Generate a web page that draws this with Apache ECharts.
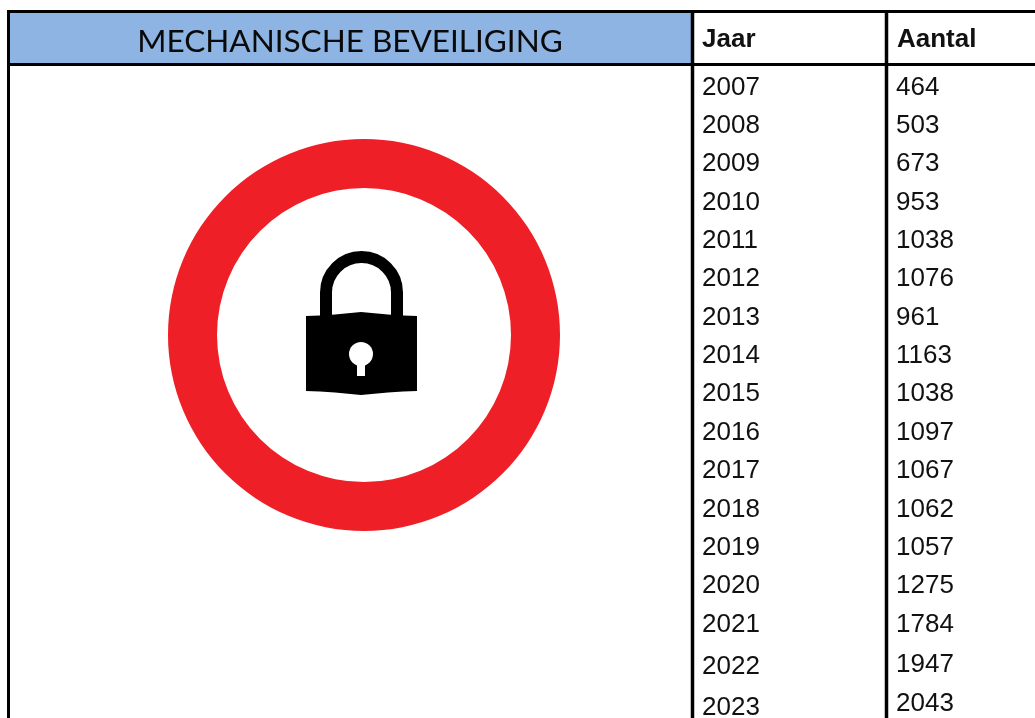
<!DOCTYPE html>
<html>
<head>
<meta charset="utf-8">
<style>
  html, body { margin: 0; padding: 0; background: #fff; overflow: hidden; }
  #chart { width: 1035px; height: 718px; }
</style>
<script src="https://cdn.jsdelivr.net/npm/echarts@6/dist/echarts.min.js"></script>
</head>
<body>
<div id="chart"></div>
<script>
const title = 'MECHANISCHE BEVEILIGING';
const headers = ['Jaar', 'Aantal'];
const years = ['2007', '2008', '2009', '2010', '2011', '2012', '2013', '2014', '2015', '2016', '2017', '2018', '2019', '2020', '2021', '2022', '2023'];
const counts = ['464', '503', '673', '953', '1038', '1076', '961', '1163', '1038', '1097', '1067', '1062', '1057', '1275', '1784', '1947', '2043'];

// the last rows sit a bit lower in the source table
const yearNudge = { 2022: 4.5, 2023: 6.5 };
const countNudge = { 2022: 2, 2023: 2.5 };

const black = '#000';
const tableFont = '"Liberation Sans", Arial, sans-serif';

function line(x1, y1, x2, y2, w) {
    return { type: 'line', shape: { x1, y1, x2, y2 }, style: { stroke: black, lineWidth: w }, z: 5 };
}

// one text column, placed through the axes
function textColumn(name, xPos, labels, nudge) {
    return {
        type: 'custom',
        name: name,
        coordinateSystem: 'cartesian2d',
        clip: false,
        data: labels.map((t, i) => [xPos, years[i]]),
        encode: { x: 0, y: 1 },
        renderItem(params, api) {
            const p = api.coord([api.value(0), params.dataIndex]);
            const yr = years[params.dataIndex];
            return {
                type: 'text',
                x: p[0],
                y: p[1] + 2.3 + (nudge[yr] || 0),
                style: {
                    text: labels[params.dataIndex],
                    fill: '#111',
                    fontFamily: tableFont,
                    fontSize: 26,
                    verticalAlign: 'middle'
                }
            };
        }
    };
}

const chart = echarts.init(document.getElementById('chart'), null, { renderer: 'canvas' });
chart.setOption({
    animation: false,
    backgroundColor: '#fff',
    grid: { left: 0, top: 66, width: 1035, height: 654 },
    xAxis: { type: 'value', min: 0, max: 1035, show: false },
    yAxis: { type: 'category', data: years, inverse: true, show: false },
    series: [
        textColumn('Jaar', 702, years, yearNudge),
        textColumn('Aantal', 896, counts, countNudge)
    ],
    graphic: [
        // header band
        { type: 'rect', shape: { x: 9, y: 12, width: 683, height: 52 }, style: { fill: '#8DB4E2' } },
        { type: 'text', x: 350, y: 42, style: { text: title, fill: '#0a0a0a', font: '31.5px Lato, "Open Sans", sans-serif', textAlign: 'center', textVerticalAlign: 'middle' } },
        { type: 'text', x: 702, y: 40, style: { text: headers[0], fill: '#111', font: 'bold 26px ' + tableFont, textVerticalAlign: 'middle' } },
        { type: 'text', x: 897, y: 40, style: { text: headers[1], fill: '#111', font: 'bold 26px ' + tableFont, textVerticalAlign: 'middle' } },
        // table lines
        line(7, 11.5, 1035, 11.5, 3),
        line(7, 64.5, 1035, 64.5, 3),
        line(8.5, 10, 8.5, 718, 3),
        line(692.5, 10, 692.5, 718, 3.5),
        line(886.5, 10, 886.5, 718, 3.5),
        // red ring
        { type: 'ring', shape: { cx: 364, cy: 335, r: 196, r0: 147 }, style: { fill: '#EE1F26' } },
        // padlock shackle
        { type: 'arc', shape: { cx: 361.5, cy: 292.5, r: 35.5, startAngle: Math.PI, endAngle: 2 * Math.PI, clockwise: true }, style: { fill: 'none', stroke: black, lineWidth: 12 } },
        { type: 'line', shape: { x1: 326, y1: 292, x2: 326, y2: 318 }, style: { stroke: black, lineWidth: 12 } },
        { type: 'line', shape: { x1: 397, y1: 292, x2: 397, y2: 318 }, style: { stroke: black, lineWidth: 12 } },
        // padlock body
        {
            type: 'polygon',
            shape: {
                points: [[306, 316], [320, 315.5], [335, 314.5], [361, 312], [388, 314.5], [403, 315.5], [417, 316],
                    [417, 391], [403, 391.5], [388, 392.5], [361, 395], [335, 392.5], [320, 391.5], [306, 391]]
            },
            style: { fill: black }
        },
        { type: 'circle', shape: { cx: 361, cy: 354, r: 12 }, style: { fill: '#fff' } },
        { type: 'rect', shape: { x: 357, y: 360, width: 8, height: 16 }, style: { fill: '#fff' } }
    ]
});
window.addEventListener('resize', chart.resize);
</script>
</body>
</html>
